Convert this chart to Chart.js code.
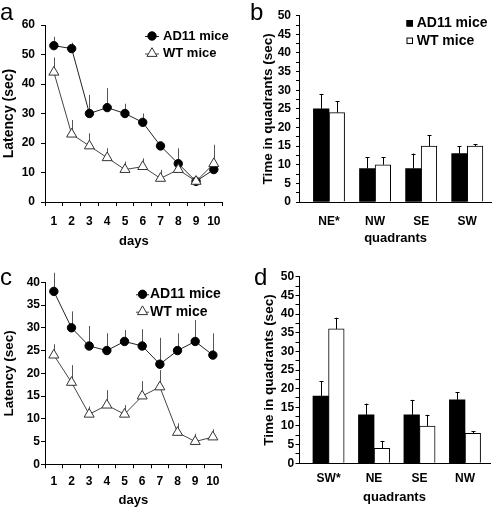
<!DOCTYPE html>
<html><head><meta charset="utf-8">
<script src="https://cdn.jsdelivr.net/npm/chart.js@4/dist/chart.umd.min.js"></script>
<style>
html,body{margin:0;padding:0;background:#fff;}
#wrap{position:relative;width:494px;height:510px;overflow:hidden;background:#fff}
canvas{position:absolute;}
.lbl{position:absolute;font-family:"Liberation Sans",Arial,sans-serif;font-size:24px;line-height:24px;color:#000}
</style></head><body>
<div id="wrap">
<canvas id="ca" width="250" height="250" style="left:0;top:0;width:250px;height:250px"></canvas>
<canvas id="cb" width="244" height="250" style="left:250px;top:0;width:244px;height:250px"></canvas>
<canvas id="cc" width="250" height="260" style="left:0;top:250px;width:250px;height:260px"></canvas>
<canvas id="cd" width="244" height="260" style="left:250px;top:250px;width:244px;height:260px"></canvas>
<div class="lbl" style="left:0;top:0">a</div>
<div class="lbl" style="left:250px;top:0">b</div>
<div class="lbl" style="left:0;top:265px">c</div>
<div class="lbl" style="left:254px;top:265px">d</div>
</div>
<script>
// ---- data ----
const seriesNames = ['AD11 mice', 'WT mice'];
const days = ['1','2','3','4','5','6','7','8','9','10'];

const aAD11    = [53, 52, 30, 32, 30, 27, 19, 13, 7, 11];
const aAD11Err = [3, 2, 6.3, 6.6, 3.3, 3, 1.5, 5.2, 0.5, 1];
const aWT      = [44, 23, 19, 15, 11, 12, 8, 11, 7, 13];
const aWTErr   = [5, 4.8, 4.3, 3.2, 2.7, 2.8, 2.9, 1, 1.6, 6.4];

const bQuadrants = ['NE*', 'NW', 'SE', 'SW'];
const bAD11    = [25, 9, 9, 13];
const bAD11Err = [4, 3, 4, 2];
const bWT      = [24, 10, 15, 15];
const bWTErr   = [3, 2, 3, 0.5];

const cAD11    = [38, 30, 26, 25, 27, 26, 22, 25, 27, 24];
const cAD11Err = [4.1, 3.6, 4.4, 3.8, 2.5, 3.7, 5.8, 3.8, 4.7, 4.8];
const cWT      = [24, 18, 11, 13, 11, 15, 17, 7, 5, 6];
const cWTErr   = [2.4, 3.8, 1.7, 3.3, 2, 3.3, 3.7, 2, 1.7, 1.7];

const dQuadrants = ['SW*', 'NE', 'SE', 'NW'];
const dAD11    = [18, 13, 13, 17];
const dAD11Err = [4, 3, 4, 2];
const dWT      = [36, 4, 10, 8];
const dWTErr   = [3, 2, 3, 0.6];

// ---- setup ----
const FONT = '"Liberation Sans", Arial, Helvetica, sans-serif';
Chart.defaults.font.family = FONT;
Chart.defaults.font.weight = 'bold';
Chart.defaults.color = '#000';
Chart.defaults.animation = false;

function drawErrors(chart, o) {
  const ctx = chart.ctx;
  const ys = chart.scales.y;
  ctx.save();
  chart.data.datasets.forEach((ds, i) => {
    const meta = chart.getDatasetMeta(i);
    ctx.strokeStyle = o.color; ctx.lineWidth = o.width;
    meta.data.forEach((el, j) => {
      const v = (typeof ds.data[j] === 'object') ? ds.data[j].y : ds.data[j];
      const e = ds.errors[j];
      const yTop = ys.getPixelForValue(v + e);
      const x = Math.round(el.x) + 0.5;
      ctx.beginPath();
      ctx.moveTo(x, el.y);
      ctx.lineTo(x, yTop);
      if (o.cap) { ctx.moveTo(x - o.cap, Math.round(yTop) + 0.5); ctx.lineTo(x + o.cap, Math.round(yTop) + 0.5); }
      ctx.stroke();
    });
  });
  ctx.restore();
}
const ebPlugin = {
  id: 'eb',
  beforeDatasetsDraw(chart, args, o) { if (o.phase === 'before') drawErrors(chart, o); },
  afterDatasetsDraw(chart, args, o) { if (o.phase === 'after') drawErrors(chart, o); }
};
const lgPlugin = {
  id: 'lg',
  afterDraw(chart, args, o) {
    if (o.kind === 'none') return;
    const ctx = chart.ctx;
    ctx.save();
    ctx.font = 'bold ' + o.size + 'px ' + FONT;
    ctx.textBaseline = 'middle';
    chart.data.datasets.forEach((ds, i) => {
      const y = o.y[i];
      if (o.kind === 'line') {
        ctx.strokeStyle = ds.borderColor; ctx.lineWidth = 1;
        ctx.beginPath(); ctx.moveTo(o.x0, y + 0.5); ctx.lineTo(o.x1, y + 0.5); ctx.stroke();
        ctx.fillStyle = ds.pointBackgroundColor; ctx.strokeStyle = ds.pointBorderColor;
        Chart.helpers.drawPoint(ctx, {pointStyle: ds.pointStyle, radius: ds.pointRadius, borderWidth: 1, rotation: 0}, o.mx, y);
      } else {
        ctx.fillStyle = ds.backgroundColor; ctx.strokeStyle = '#000'; ctx.lineWidth = 1;
        ctx.fillRect(o.mx, y - o.sq / 2, o.sq, o.sq);
        ctx.strokeRect(o.mx + 0.5, y - o.sq / 2 + 0.5, o.sq - 1, o.sq - 1);
      }
      ctx.fillStyle = '#000';
      ctx.fillText(ds.label, o.tx, y);
    });
    ctx.restore();
  }
};

function lineChart(id, ad, adErr, wt, wtErr, c) {
  new Chart(document.getElementById(id), {
    type: 'line',
    data: { labels: days, datasets: [
      { label: seriesNames[0], data: ad, errors: adErr, order: 1, borderColor: '#222', borderWidth: 1,
        pointStyle: 'circle', pointRadius: 4.2, pointBackgroundColor: '#000', pointBorderColor: '#000', pointBorderWidth: 1, tension: 0 },
      { label: seriesNames[1], data: wt, errors: wtErr, order: 0, borderColor: '#444', borderWidth: 1,
        pointStyle: 'triangle', pointRadius: 5.8, pointBackgroundColor: '#fff', pointBorderColor: '#333', pointBorderWidth: 1, tension: 0 }
    ]},
    plugins: [ebPlugin, lgPlugin],
    options: {
      responsive: false, devicePixelRatio: 1, animation: false,
      layout: { padding: { left: 0, top: c.top, right: c.right, bottom: 0 } },
      plugins: {
        legend: { display: false }, tooltip: { enabled: false },
        eb: { phase: 'before', color: '#555', width: 1, cap: 0 },
        lg: Object.assign({ kind: 'line' }, c.lg)
      },
      scales: {
        x: { type: 'category', offset: true,
          grid: { offset: true, drawOnChartArea: false, drawTicks: true, tickLength: 4, color: '#000' },
          border: { display: true, color: '#000', width: 1 },
          ticks: { font: { size: 12, weight: 'bold' }, padding: c.xPad, maxRotation: 0, autoSkip: false, color: '#000' },
          title: { display: true, text: 'days', font: { size: 13, weight: 'bold' }, padding: { top: 0, bottom: c.xtPad }, color: '#000' },
          afterFit: s => { s.height = c.xh; } },
        y: { min: 0, max: c.ymax,
          grid: { drawOnChartArea: false, drawTicks: true, tickLength: 4, color: '#000' },
          border: { display: true, color: '#000', width: 1 },
          ticks: { stepSize: c.step, font: { size: 12, weight: 'bold' }, padding: c.yPad, color: '#000' },
          title: { display: true, text: 'Latency (sec)', font: { size: c.ytSize, weight: 'bold' }, padding: { top: c.ytPad, bottom: 0 }, color: '#000' },
          afterFit: s => { s.width = c.yw; } }
      }
    }
  });
}

function barChart(id, cats, ad, adErr, wt, wtErr, c) {
  const mk = vals => vals.map((v, i) => ({ x: i + 1, y: v }));
  new Chart(document.getElementById(id), {
    type: 'bar',
    data: { datasets: [
      { label: seriesNames[0], data: mk(ad), errors: adErr, backgroundColor: '#000', borderColor: '#000', borderWidth: 0, barThickness: 15.6 },
      { label: seriesNames[1], data: mk(wt), errors: wtErr, backgroundColor: '#fff', borderColor: '#000', borderWidth: 1, barThickness: 15.6 }
    ]},
    plugins: [ebPlugin, lgPlugin],
    options: {
      responsive: false, devicePixelRatio: 1, animation: false,
      layout: { padding: { left: 0, top: c.top, right: c.right, bottom: 0 } },
      plugins: {
        legend: { display: false }, tooltip: { enabled: false },
        eb: { phase: 'after', color: '#000', width: 1, cap: 2 },
        lg: c.lg ? Object.assign({ kind: 'box' }, c.lg) : { kind: 'none', y: [] }
      },
      scales: {
        x: { type: 'linear', min: c.xmin, max: c.xmax, offset: false,
          grid: { display: false },
          border: { display: true, color: '#000', width: 1 },
          afterBuildTicks: s => { s.ticks = cats.map((name, i) => ({ value: i + 1 })); },
          ticks: { autoSkip: false, maxRotation: 0, font: { size: 12, weight: 'bold' }, padding: c.xPad, color: '#000',
            callback: v => cats[Math.round(v) - 1] || '' },
          title: { display: true, text: 'quadrants', font: { size: 13, weight: 'bold' }, padding: { top: 0, bottom: c.xtPad }, color: '#000' },
          afterFit: s => { s.height = c.xh; } },
        y: { min: 0, max: 50,
          grid: { drawOnChartArea: false, drawTicks: true, tickLength: 3.5, color: '#000' },
          border: { display: true, color: '#000', width: 1 },
          ticks: { stepSize: 2.5, autoSkip: false, font: { size: 12, weight: 'bold' }, padding: c.yPad, color: '#000',
            callback: v => (v % 5 === 0) ? String(v) : '' },
          title: { display: true, text: 'Time in quadrants (sec)', font: { size: 13.5, weight: 'bold' }, padding: { top: c.ytPad, bottom: 0 }, color: '#000' },
          afterFit: s => { s.width = c.yw; } }
      }
    }
  });
}

lineChart('ca', aAD11, aAD11Err, aWT, aWTErr, {
  top: 25, right: 27.3, xh: 48, yw: 45, ymax: 60, step: 10, xPad: 8, xtPad: 1.2, yPad: 6, ytSize: 14, ytPad: 0.6,
  lg: { size: 13, x0: 145, x1: 159, mx: 152, tx: 163, y: [36, 53.5] }
});
barChart('cb', bQuadrants, bAD11, bAD11Err, bWT, bWTErr, {
  top: 15.7, right: 2.3, xh: 48, yw: 49.5, xmin: 0.36, xmax: 4.53, xPad: 4, xtPad: 4.2, yPad: 5, ytPad: 10.4,
  lg: { size: 14, mx: 156.5, sq: 6.5, tx: 166.7, y: [23.3, 40.8] }
});
lineChart('cc', cAD11, cAD11Err, cWT, cWTErr, {
  top: 32.3, right: 28.3, xh: 45.7, yw: 45, ymax: 40, step: 5, xPad: 6, xtPad: 2.2, yPad: 1, ytSize: 13.5, ytPad: 0.9,
  lg: { size: 14, x0: 136, x1: 149, mx: 142.5, tx: 150, y: [44.3, 61.7] }
});
barChart('cd', dQuadrants, dAD11, dAD11Err, dWT, dWTErr, {
  top: 26.7, right: 4, xh: 46.7, yw: 49, xmin: 0.35, xmax: 4.55, xPad: 0.5, xtPad: 5.2, yPad: 1.3, ytPad: 10.9,
  lg: null
});
</script>
</body></html>
